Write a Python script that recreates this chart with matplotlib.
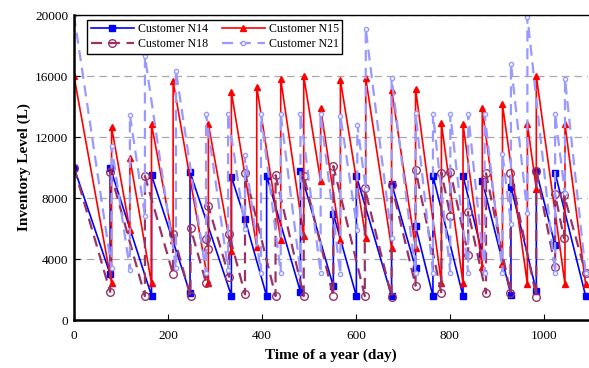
import matplotlib
matplotlib.use('Agg')
import matplotlib.pyplot as plt

plt.rcParams['font.family'] = ['Liberation Serif', 'DejaVu Serif']

# each series: refill days are repeated (low value, then refilled level)
N14_DAYS = [0, 77, 77, 165, 165, 247, 247, 335, 335, 364, 410, 410, 482, 482,
            552, 552, 601, 601, 676, 676, 727, 727, 764, 764, 828, 828, 869, 869,
            930, 930, 984, 984, 1024, 1024, 1089]
N14_LEVEL = [10000, 3000, 10000, 1600, 9500, 1750, 9700, 1600, 9400, 6600, 1570, 9450, 1850, 9750,
             2200, 6950, 1570, 9450, 1570, 8950, 3400, 6150, 1570, 9450, 1570, 9450, 4350, 9100,
             1650, 8750, 1900, 9750, 4900, 9650, 1570]

N15_DAYS = [0, 80, 80, 119, 119, 165, 165, 211, 211, 286, 286, 335, 335, 389, 389,
            440, 440, 489, 489, 525, 525, 567, 567, 621, 621, 676, 676, 727, 727,
            782, 782, 828, 828, 869, 869, 912, 912, 965, 965, 984, 984, 1045, 1045, 1089]
N15_LEVEL = [16000, 2400, 12650, 5900, 10600, 2400, 12850, 5250, 15650, 2400, 12850, 4500, 14950, 4800, 15300,
             5250, 15800, 5500, 16000, 9100, 13900, 5250, 15750, 5400, 15850, 4700, 15100, 4700, 15150,
             2400, 12900, 2400, 12850, 3450, 13900, 3700, 14150, 2350, 12850, 8600, 16000, 2350, 12850, 2350]

N18_DAYS = [0, 77, 77, 151, 151, 211, 211, 248, 248, 281, 281, 286, 286, 330, 330,
            364, 364, 429, 429, 489, 489, 552, 552, 619, 619, 676, 676, 727, 727,
            782, 782, 801, 801, 839, 839, 877, 877, 929, 929, 984, 984, 1024, 1024,
            1043, 1043, 1089]
N18_LEVEL = [10000, 1850, 9730, 1570, 9440, 3000, 5640, 1570, 6050, 2450, 5290, 4630, 7470, 2840, 5640,
             1680, 9650, 1570, 9500, 1570, 9460, 1570, 10100, 1570, 8630, 1530, 8850, 2250, 9840,
             1750, 9670, 6840, 9730, 4260, 7100, 1750, 9620, 1750, 9660, 1530, 9800, 3450, 8240,
             5360, 8200, 3060]

N21_DAYS = [0, 80, 80, 119, 119, 151, 151, 217, 217, 281, 281, 328, 328, 364, 364,
            398, 398, 440, 440, 482, 482, 525, 525, 567, 567, 603, 603, 621, 621,
            676, 676, 727, 727, 764, 764, 801, 801, 839, 839, 874, 874, 912, 912,
            930, 930, 965, 965, 1024, 1024, 1045, 1045, 1089]
N21_LEVEL = [20000, 3400, 11400, 3300, 13440, 6850, 17300, 3400, 16350, 3100, 13500, 3300, 13500, 6000, 10800,
             3100, 13500, 3100, 13500, 3100, 13500, 3100, 13500, 3000, 13400, 5900, 12800, 8600, 19100,
             5400, 15850, 3100, 13550, 3100, 13500, 3100, 13500, 3100, 13500, 3100, 13500, 3100, 10900,
             6300, 16800, 7000, 19900, 3100, 13500, 8300, 15800, 3100]

fig = plt.figure(figsize=(5.89, 3.68), dpi=100)
ax = fig.add_axes([0.1256, 0.1304, 0.8735, 0.8288])

l14, = ax.plot(N14_DAYS, N14_LEVEL, color='#0000FF', lw=1.2, marker='s', markersize=4,
               label='Customer N14')
l15, = ax.plot(N15_DAYS, N15_LEVEL, color='#FF0000', lw=1.2, marker='^', markersize=4.5,
               label='Customer N15')
l18, = ax.plot(N18_DAYS, N18_LEVEL, color='#993366', lw=1.6, linestyle=(0, (5, 3)),
               marker='o', markersize=5.5, markerfacecolor='none', markeredgewidth=1,
               label='Customer N18')
l21, = ax.plot(N21_DAYS, N21_LEVEL, color='#9999FF', lw=1.6, linestyle=(0, (5, 3)),
               marker='o', markersize=3, markerfacecolor='white', markeredgewidth=1,
               label='Customer N21')

ax.set_xlim(0, 1095)
ax.set_ylim(0, 20000)
ax.set_xticks(range(0, 1001, 200))
ax.set_yticks(range(0, 20001, 4000))
ax.yaxis.grid(True, linestyle=(0, (6, 4)), color='#A8A8A8', lw=0.9)
ax.set_axisbelow(True)
ax.tick_params(direction='in', labelsize=9.5, length=4)
ax.tick_params(axis='x', pad=7)
ax.tick_params(axis='y', pad=4)

for side in ['left', 'bottom']:
    ax.spines[side].set_linewidth(1.8)
ax.spines['top'].set_linewidth(1.0)
ax.spines['right'].set_visible(False)

ax.set_xlabel('Time of a year (day)', fontsize=11, fontweight='bold', labelpad=5)
ax.set_ylabel('Inventory Level (L)', fontsize=11, fontweight='bold', labelpad=3)

leg = ax.legend(handles=[l14, l18, l15, l21], ncol=2, loc='upper left',
                bbox_to_anchor=(0.026, 0.985), fontsize=8.6, fancybox=False,
                edgecolor='black', framealpha=1, handlelength=3.6, borderpad=0.3,
                labelspacing=0.25, columnspacing=1.2, handletextpad=0.3,
                borderaxespad=0)
leg.get_frame().set_linewidth(1.0)

fig.savefig('out.png', dpi=100)
